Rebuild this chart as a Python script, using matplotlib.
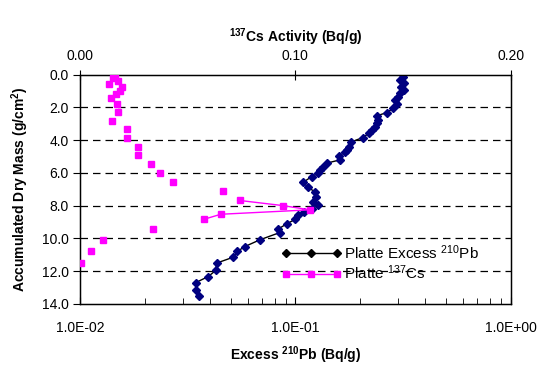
import numpy as np
import matplotlib
matplotlib.use("Agg")
import matplotlib.pyplot as plt
from matplotlib.lines import Line2D
from matplotlib.ticker import FuncFormatter, FormatStrFormatter

plt.rcParams['font.family'] = ['Liberation Sans', 'DejaVu Sans']
plt.rcParams['mathtext.fontset'] = 'custom'
plt.rcParams['mathtext.rm'] = 'Liberation Sans'
plt.rcParams['mathtext.bf'] = 'Liberation Sans:bold'

# excess 210Pb profile (Bq/g) vs accumulated dry mass (g/cm2)
pb_depth = [0.13, 0.34, 0.54, 0.74, 0.95, 1.15, 1.35, 1.55, 1.82, 2.06,
            2.33, 2.51, 2.77, 2.98, 3.18, 3.38, 3.59, 3.85, 4.13, 4.40,
            4.60, 4.74, 4.95, 5.21, 5.41, 5.62, 5.82, 6.02, 6.23, 6.57,
            6.88, 7.15, 7.45, 7.76, 7.96, 8.20, 8.40, 8.60, 8.85, 9.12,
            9.44, 9.65, 10.09, 10.50, 10.80, 11.15, 11.51, 11.96, 12.33, 12.70,
            13.14, 13.50]
pb_act = [0.316, 0.305, 0.320, 0.310, 0.320, 0.305, 0.300, 0.290, 0.295, 0.285,
          0.265, 0.240, 0.242, 0.240, 0.234, 0.226, 0.220, 0.205, 0.181, 0.178,
          0.173, 0.170, 0.160, 0.161, 0.140, 0.135, 0.130, 0.128, 0.119, 0.109,
          0.114, 0.123, 0.125, 0.121, 0.128, 0.119, 0.110, 0.103, 0.0995, 0.091,
          0.083, 0.0845, 0.0684, 0.0583, 0.0537, 0.0515, 0.0431, 0.0427, 0.0394, 0.0345,
          0.0345, 0.0358]

# 137Cs profile (Bq/g); nan = empty cell (breaks the line)
nan = np.nan
cs_depth = [0.03, nan, 0.23, nan, 0.38, nan, 0.58, nan, 0.78, nan, 1.00, nan,
            1.21, nan, 1.45, nan, 1.80, nan, 2.31, nan, 2.82, nan, 3.32, nan,
            3.85, nan, 4.40, nan, 4.93, nan, 5.46, nan, 5.99, nan, 6.57, nan,
            7.14, nan, 7.69, 8.00, 8.26, 8.53, 8.83, nan, 9.44, nan, 10.10, nan,
            10.80, nan, 11.51]
cs_act = [0.0162, nan, 0.0155, nan, 0.0175, nan, 0.0135, nan, 0.0194, nan, 0.0186, nan,
          0.0167, nan, 0.0145, nan, 0.0173, nan, 0.0178, nan, 0.0150, nan, 0.0217, nan,
          0.0217, nan, 0.0269, nan, 0.0268, nan, 0.0328, nan, 0.0373, nan, 0.0433, nan,
          0.0662, nan, 0.0742, 0.0941, 0.1067, 0.0654, 0.0577, nan, 0.0337, nan, 0.0108, nan,
          0.0051, nan, 0.0003]

fig = plt.figure(figsize=(5.44, 3.67), dpi=100)
ax = fig.add_axes([0.147, 0.172, 0.792, 0.625])

ax.set_xscale('log')
ax.set_xlim(0.01, 1)
ax.set_ylim(14, 0)
ax.set_yticks(np.arange(0, 15, 2))
ax.yaxis.set_major_formatter(FormatStrFormatter('%.1f'))
ax.xaxis.set_major_formatter(FuncFormatter(lambda v, p: '{:.1E}'.format(v)))
ax.tick_params(axis='x', which='both', direction='in', top=False, labelsize=10, pad=12)
ax.tick_params(axis='x', which='major', length=5)
ax.tick_params(axis='x', which='minor', length=4)
ax.tick_params(axis='y', direction='out', length=5, right=False, labelsize=10, pad=3)

for g in range(2, 14, 2):
    ax.axhline(g, color='black', lw=0.9, dashes=(6, 4), zorder=0)

for s in ax.spines.values():
    s.set_linewidth(1.0)

ax.plot(pb_act, pb_depth, color='black', lw=1, marker='D', ms=4.5,
        mfc='#000080', mec='#000080', zorder=3)

ax.set_xlabel(r'Excess $\mathbf{^{210}}$Pb (Bq/g)', fontweight='bold', fontsize=10, labelpad=7)
ax.set_ylabel(r'Accumulated Dry Mass (g/cm$\mathbf{^{2}}$)', fontweight='bold', fontsize=10, labelpad=8)

ax2 = ax.twiny()
ax2.set_xlim(0, 0.2)
ax2.set_xticks([0, 0.1, 0.2])
ax2.xaxis.set_major_formatter(FormatStrFormatter('%.2f'))
ax2.tick_params(axis='x', direction='inout', length=7, labelsize=10, pad=5)
ax2.plot(cs_act, cs_depth, color='#FF00FF', lw=1, marker='s', ms=5,
         mfc='#FF00FF', mec='#FF00FF', zorder=3)
ax2.set_xlabel(r'$\mathbf{^{137}}$Cs Activity (Bq/g)', fontweight='bold', fontsize=10, labelpad=5)

handles = [Line2D([], [], color='black', lw=1, marker='D', ms=4.5, mfc='black', mec='black'),
           Line2D([], [], color='#FF00FF', lw=1, marker='s', ms=5)]
labels = [r'Platte Excess $\mathrm{^{210}}$Pb', r'Platte $\mathrm{^{137}}$Cs']
ax2.legend(handles, labels, loc='upper left', bbox_to_anchor=(0.468, 0.265),
           frameon=False, fontsize=11, numpoints=3, handlelength=3.9,
           handletextpad=0.2, borderpad=0, borderaxespad=0, labelspacing=0.12)

fig.savefig('out.png', dpi=100)
